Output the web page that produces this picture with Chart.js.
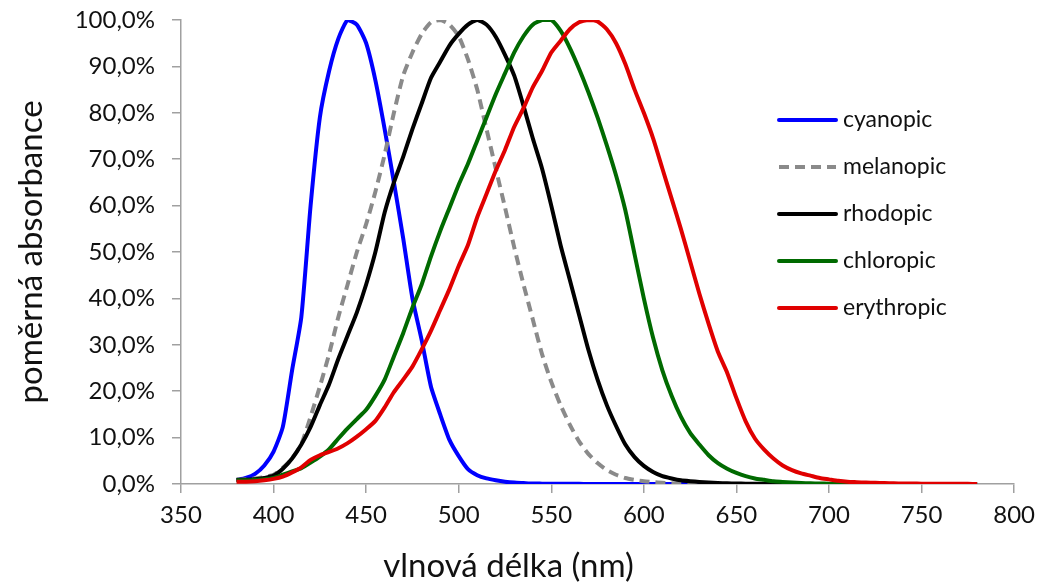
<!DOCTYPE html>
<html>
<head>
<meta charset="utf-8">
<script src="https://cdn.jsdelivr.net/npm/chart.js@4.4.1/dist/chart.umd.min.js"></script>
<style>
  body { margin: 0; background: #fff; }
  #wrap { width: 1043px; height: 586px; }
</style>
</head>
<body>
<div id="wrap"><canvas id="chart"></canvas></div>
<script>
// Wavelengths (nm) at which the action spectra are sampled.
const WAVELENGTHS = [
  380, 385, 390, 395, 400, 405, 410, 415, 420, 425, 430, 435, 440, 445, 450, 455,
  460, 465, 470, 475, 480, 485, 490, 495, 500, 505, 510, 515, 520, 525, 530, 535,
  540, 545, 550, 555, 560, 565, 570, 575, 580, 585, 590, 595, 600, 605, 610, 615,
  620, 625, 630, 635, 640, 645, 650, 655, 660, 665, 670, 675, 680, 685, 690, 695,
  700, 705, 710, 715, 720, 725, 730, 735, 740, 745, 750, 755, 760, 765, 770, 775,
  780
];

// Relative absorbance (%).
const CYANOPIC = [
  0.8, 1.3, 2.2, 4.0, 7.0, 12.3, 24.5, 36, 60, 79, 89, 96, 100, 99, 95, 87,
  76.5, 65, 53, 40, 31, 21, 15, 9.5, 6, 3.2, 1.9, 1.2, 0.8, 0.5, 0.3, 0.2,
  0.1, 0.08, 0.06, 0.05, 0.04, 0.03, 0.02, 0.02, 0.01, 0.01, 0.01, 0.01, 0.01, 0.01, 0.01, 0.01,
  0.01, 0, 0, 0, 0, 0, 0, 0, 0, 0, 0, 0, 0, 0, 0, 0,
  0, 0, 0, 0, 0, 0, 0, 0, 0, 0, 0, 0, 0, 0, 0, 0,
  0
];
const MELANOPIC = [
  0.9, 1.0, 1.2, 1.5, 2.0, 3.5, 5.5, 8.6, 14.5, 21, 28, 36, 43, 50, 56, 63,
  71, 80, 88, 93, 97, 99.5, 100, 99, 96.5, 91.5, 85, 76.5, 68, 59.6, 51, 43,
  35.5, 28, 22, 17, 12.8, 9.2, 6.5, 4.5, 3, 2, 1.3, 0.9, 0.6, 0.4, 0.25, 0.15,
  0.1, 0.05, 0, 0, 0, 0, 0, 0, 0, 0, 0, 0, 0, 0, 0, 0,
  0, 0, 0, 0, 0, 0, 0, 0, 0, 0, 0, 0, 0, 0, 0, 0,
  0
];
const RHODOPIC = [
  0.9, 0.9, 1.0, 1.3, 1.8, 3.3, 5.5, 8.5, 12.3, 17, 21.5, 27, 32, 37, 43, 50,
  58.5, 65, 70.5, 76.5, 82, 87.5, 91, 94.5, 97, 99, 100, 99, 96.4, 92.5, 88, 81.5,
  74.5, 68, 60, 51.5, 44, 36.5, 29, 22.5, 17, 12.5, 8.5, 5.8, 3.9, 2.6, 1.7, 1.2,
  0.8, 0.6, 0.45, 0.3, 0.2, 0.15, 0.1, 0.07, 0.05, 0.03, 0.02, 0, 0, 0, 0, 0,
  0, 0, 0, 0, 0, 0, 0, 0, 0, 0, 0, 0, 0, 0, 0, 0,
  0
];
const CHLOROPIC = [
  0.8, 0.8, 0.9, 1.0, 1.3, 2.0, 2.7, 3.4, 4.6, 5.9, 7.5, 9.8, 12, 14, 16, 19,
  22.5, 27.5, 32.5, 38, 43, 49, 54.5, 59.5, 64.5, 69, 74, 79, 84, 88.5, 93, 96.5,
  99, 100, 100, 97.7, 94, 89.5, 84.5, 79, 73, 66.5, 59, 49.5, 40, 31.5, 24.5, 19,
  14.5, 11, 8.5, 6.2, 4.5, 3.3, 2.4, 1.7, 1.2, 0.9, 0.6, 0.45, 0.3, 0.2, 0.15, 0.1,
  0.07, 0.05, 0.03, 0.02, 0, 0, 0, 0, 0, 0, 0, 0, 0, 0, 0, 0,
  0
];
const ERYTHROPIC = [
  0.5, 0.5, 0.6, 0.8, 1.1, 1.6, 2.5, 3.6, 5.2, 6.2, 6.9, 7.7, 8.8, 10.2, 11.8, 13.6,
  16.5, 19.8, 22.5, 25.3, 29, 33, 37.5, 42, 47, 51.5, 57.5, 62.5, 67.5, 72, 77, 81,
  85.5, 89, 93, 95.5, 98, 99.5, 100, 99.7, 98, 95, 90.5, 85, 80, 74.5, 68, 61.5,
  55, 48, 41, 34.5, 28.5, 24, 18.5, 13.5, 9.8, 7.4, 5.5, 4, 3, 2.3, 1.8, 1.3,
  1.0, 0.7, 0.5, 0.4, 0.3, 0.25, 0.2, 0.15, 0.12, 0.1, 0.08, 0.06, 0.05, 0.04, 0.03, 0.03,
  0.02
];

const SERIES_NAMES = ['cyanopic', 'melanopic', 'rhodopic', 'chloropic', 'erythropic'];
const SERIES_VALUES = [CYANOPIC, MELANOPIC, RHODOPIC, CHLOROPIC, ERYTHROPIC];
const SERIES_COLORS = ['#0000ff', '#8a8a8a', '#000000', '#006a00', '#e00000'];
const SERIES_DASHES = [[], [10, 6], [], [], []];

const X_TICKS = [350, 400, 450, 500, 550, 600, 650, 700, 750, 800];

const FONT = 'Lato, "Open Sans", sans-serif';
const AXIS_COLOR = '#a0a0a0';

function pairs(values) {
  return WAVELENGTHS.map(function(w, i) { return {x: w, y: values[i]}; });
}

// Legend drawn inside the plot area, at the right, like the original.
const insideLegend = {
  id: 'insideLegend',
  afterDraw(chart) {
    const ctx = chart.ctx;
    ctx.save();
    chart.data.datasets.forEach(function(ds, i) {
      const y = 120 + i * 47;
      ctx.beginPath();
      ctx.strokeStyle = ds.borderColor;
      ctx.lineWidth = 4;
      ctx.lineCap = ds.borderDash.length ? 'butt' : 'round';
      ctx.setLineDash(ds.borderDash);
      ctx.moveTo(779, y);
      ctx.lineTo(836, y);
      ctx.stroke();
      ctx.setLineDash([]);
      ctx.fillStyle = '#111';
      ctx.font = '23px ' + FONT;
      ctx.textBaseline = 'middle';
      ctx.textAlign = 'left';
      ctx.fillText(ds.label, 843, y);
    });
    ctx.restore();
  }
};

const datasets = SERIES_NAMES.map(function(name, i) {
  return {
    label: name,
    data: pairs(SERIES_VALUES[i]),
    borderColor: SERIES_COLORS[i],
    backgroundColor: SERIES_COLORS[i],
    borderWidth: 4,
    borderDash: SERIES_DASHES[i],
    pointRadius: 0,
    tension: 0.2,
    fill: false,
    order: SERIES_NAMES.length - i,
  };
});

const ctx = document.getElementById('chart').getContext('2d');
new Chart(ctx, {
  type: 'line',
  data: { datasets: datasets },
  plugins: [insideLegend],
  options: {
    responsive: true,
    maintainAspectRatio: false,
    animation: false,
    layout: { padding: { left: 0, top: 20, right: 26, bottom: 0 } },
    scales: {
      x: {
        type: 'linear',
        min: 350,
        max: 800,
        afterBuildTicks(scale) {
          scale.ticks = X_TICKS.map(function(v) { return {value: v}; });
        },
        afterFit(scale) { scale.height = 586 - 484 - 39.6; },
        grid: {
          display: true,
          drawOnChartArea: false,
          drawTicks: true,
          tickLength: 9,
          color: AXIS_COLOR,
          lineWidth: 1.5,
        },
        border: { display: true, color: AXIS_COLOR, width: 1.5 },
        ticks: {
          padding: 8,
          maxRotation: 0,
          color: '#111',
          font: { family: FONT, size: 24 },
        },
      },
      y: {
        min: 0,
        max: 100,
        afterFit(scale) {
          scale.width = 181;
          // tick padding would otherwise push the plot top down
          scale.paddingTop = 0;
          scale.paddingBottom = 0;
        },
        grid: {
          display: true,
          drawOnChartArea: false,
          drawTicks: true,
          tickLength: 9,
          color: AXIS_COLOR,
          lineWidth: 1.5,
        },
        border: { display: true, color: AXIS_COLOR, width: 1.5 },
        ticks: {
          stepSize: 10,
          padding: 17,
          color: '#111',
          font: { family: FONT, size: 24 },
          callback: function(v) { return v.toFixed(1).replace('.', ',') + '%'; },
        },
        title: {
          display: true,
          text: 'poměrná absorbance',
          color: '#111',
          font: { family: FONT, size: 33, lineHeight: 1.2 },
          padding: { top: 12, bottom: 0 },
        },
      },
    },
    plugins: {
      legend: { display: false },
      tooltip: { enabled: false },
      title: {
        display: true,
        position: 'bottom',
        text: 'vlnová délka (nm)',
        color: '#111',
        font: { family: FONT, size: 33, weight: 'normal', lineHeight: 1.2 },
        padding: { top: 0, bottom: 0 },
      },
    },
  },
});
</script>
</body>
</html>
